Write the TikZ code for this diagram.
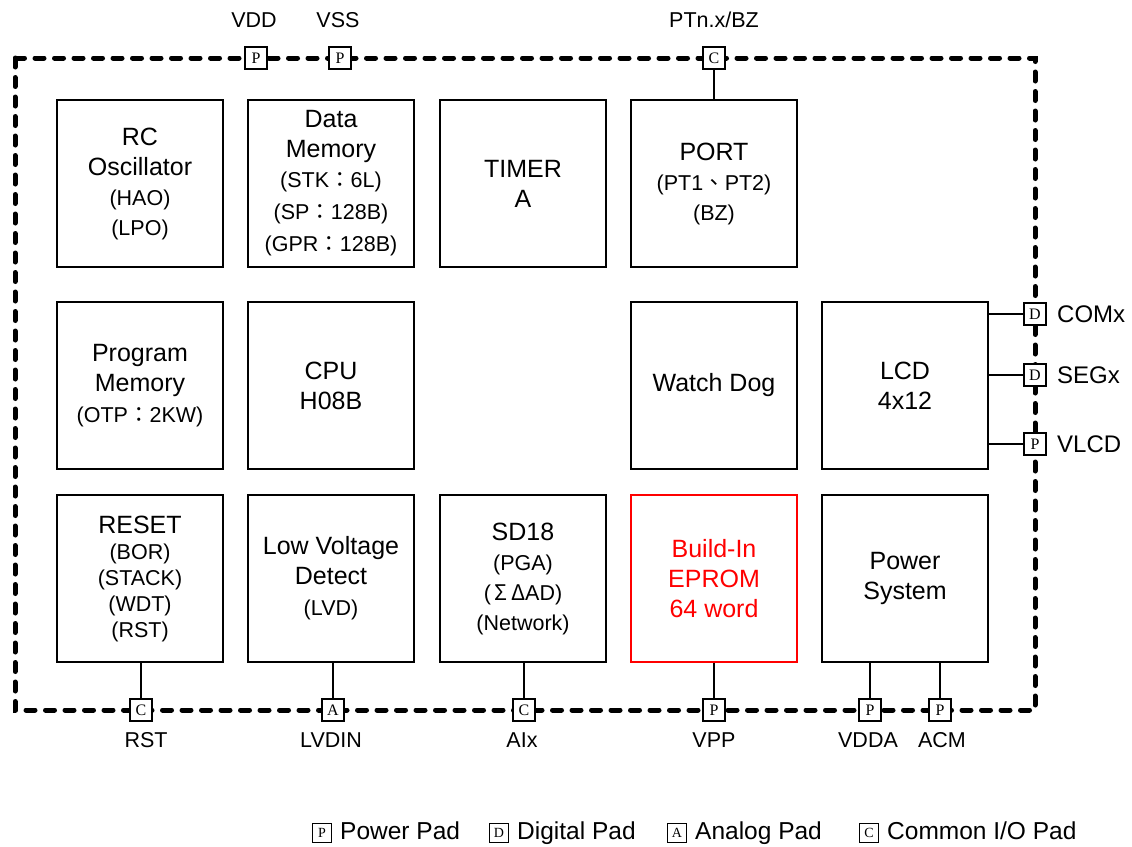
\documentclass[tikz,border=0pt]{standalone}
\usepackage{fontspec}
\setmainfont{Liberation Sans}
\newfontfamily\padfont{Liberation Serif}
\newfontfamily\cjk{Noto Sans CJK TC}
\usetikzlibrary{positioning}

\newcommand\sm{\fontsize{21.5}{29}\selectfont}

\begin{document}
\begin{tikzpicture}[
  x=1pt, y=-1pt,
  block/.style={draw, line width=1.4pt, minimum width=166pt, minimum height=167pt,
    inner sep=0pt, align=center, font=\fontsize{25}{30}\selectfont},
  pad/.style={draw, fill=white, line width=1.3pt, minimum size=22pt, inner sep=0pt,
    font=\padfont\fontsize{16}{16}\selectfont},
  legpad/.style={draw, line width=1pt, minimum size=19pt, inner sep=0pt,
    font=\padfont\fontsize{14}{14}\selectfont},
  padlbl/.style={inner sep=0pt, font=\fontsize{21.5}{24}\selectfont},
  sidelbl/.style={inner sep=0pt, anchor=west, font=\fontsize{24}{26}\selectfont},
  legtext/.style={inner sep=0pt, text height=17.5pt, text depth=5pt,
    font=\fontsize{24.5}{26}\selectfont},
  border/.style={line width=5pt, dash pattern=on 9pt off 10.5pt, line cap=round},
  wire/.style={line width=1.3pt}
]
\useasboundingbox (0,0) rectangle (1132,846);

% chip outline
\draw[border] (15,58) rectangle (1035,710);

% blocks, top row
\node[block] (rc) at (140,183.5) {RC\\Oscillator\\{\sm (HAO)}\\{\sm (LPO)}};
\node[block] (dmem) at (331,183.5) {Data\\Memory\\{\sm (STK{\cjk ：}6L)}\\[2pt]{\sm (SP{\cjk ：}128B)}\\[2pt]{\sm (GPR{\cjk ：}128B)}};
\node[block] (timer) at (523,183.5) {TIMER\\A};
\node[block] (port) at (714,183.5) {PORT\\{\sm (PT1{\cjk 、}PT2)}\\{\sm (BZ)}};

% middle row
\node[block] (pmem) at (140,385.5) {Program\\Memory\\[1pt]{\sm (OTP{\cjk ：}2KW)}};
\node[block] (cpu) at (331,385.5) {CPU\\H08B};
\node[block] (wdog) at (714,385.5) {Watch Dog};
\node[block] (lcd) at (905,385.5) {LCD\\4x12};

% bottom row
\node[block] (reset) at (140,578.5) {RESET\\[-4pt]{\sm (BOR)}\\[-4pt]{\sm (STACK)}\\[-4pt]{\sm (WDT)}\\[-4pt]{\sm (RST)}};
\node[block] (lvd) at (331,578.5) {Low Voltage\\Detect\\[1pt]{\sm (LVD)}};
\node[block] (sd) at (523,578.5) {SD18\\{\sm (PGA)}\\{\sm ({\cjk\,Σ\,Δ}AD)}\\{\sm (Network)}};
\node[block, draw=red, text=red] (eprom) at (714,578.5) {Build-In\\EPROM\\64 word};
\node[block] (pwr) at (905,578.5) {Power\\System};

% pads
\node[pad] (pVDD) at (256,58) {P};
\node[pad] (pVSS) at (340,58) {P};
\node[pad] (pPT) at (714,58) {C};
\node[pad] (pCOM) at (1035,314) {D};
\node[pad] (pSEG) at (1035,375) {D};
\node[pad] (pVLCD) at (1035,444) {P};
\node[pad] (pRST) at (141,710) {C};
\node[pad] (pLVD) at (333,710) {A};
\node[pad] (pAI) at (524,710) {C};
\node[pad] (pVPP) at (714,710) {P};
\node[pad] (pVDDA) at (870,710) {P};
\node[pad] (pACM) at (940,710) {P};

% wires
\draw[wire] (pPT) -- (port.north -| pPT);
\draw[wire] (lcd.east |- pCOM) -- (pCOM);
\draw[wire] (lcd.east |- pSEG) -- (pSEG);
\draw[wire] (lcd.east |- pVLCD) -- (pVLCD);
\draw[wire] (reset.south -| pRST) -- (pRST);
\draw[wire] (lvd.south -| pLVD) -- (pLVD);
\draw[wire] (sd.south -| pAI) -- (pAI);
\draw[wire] (eprom.south -| pVPP) -- (pVPP);
\draw[wire] (pwr.south -| pVDDA) -- (pVDDA);
\draw[wire] (pwr.south -| pACM) -- (pACM);

% pad names
\node[padlbl] (lVDD) at (254,20) {VDD};
\node[padlbl] (lVSS) at (338,20) {VSS};
\node[padlbl] (lPT) at (714,20) {PTn.x/BZ};
\node[sidelbl] (lCOM) at (1057,314) {COMx};
\node[sidelbl] (lSEG) at (1057,375) {SEGx};
\node[sidelbl] (lVLCD) at (1057,444) {VLCD};
\node[padlbl] (lRST) at (146,740) {RST};
\node[padlbl] (lLVD) at (331,740) {LVDIN};
\node[padlbl] (lAI) at (522,740) {AIx};
\node[padlbl] (lVPP) at (714,740) {VPP};
\node[padlbl] (lVDDA) at (868,740) {VDDA};
\node[padlbl] (lACM) at (942,740) {ACM};

% legend
\node[legpad] (lgP) at (322,833) {P};
\node[legtext, right=8pt of lgP] (lgPt) {Power Pad};
\node[legpad] (lgD) at (499,833) {D};
\node[legtext, right=8pt of lgD] (lgDt) {Digital Pad};
\node[legpad] (lgA) at (677,833) {A};
\node[legtext, right=8pt of lgA] (lgAt) {Analog Pad};
\node[legpad] (lgC) at (869,833) {C};
\node[legtext, right=8pt of lgC] (lgCt) {Common I/O Pad};
\end{tikzpicture}
\end{document}
